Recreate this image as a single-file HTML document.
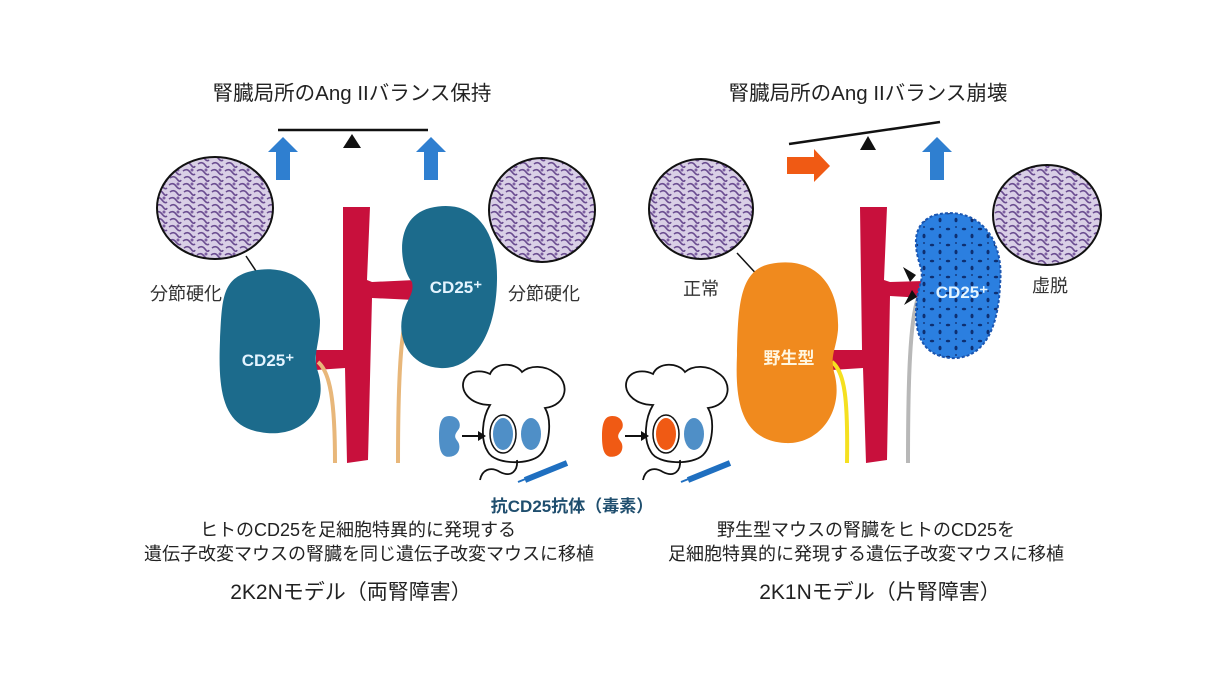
<!DOCTYPE html>
<html><head><meta charset="utf-8"><style>
html,body{margin:0;padding:0;background:#fff}
svg{display:block}
text{font-family:"Liberation Sans","Noto Sans CJK JP",sans-serif}
</style></head><body>
<svg width="1220" height="683" viewBox="0 0 1220 683">
<defs>
<pattern id="histo" width="14" height="14" patternUnits="userSpaceOnUse">
<rect width="14" height="14" fill="#d9cfe6"/>
<path d="M1 3 Q5 0 8 4 T13 6 M2 10 Q6 7 9 11 T13 12" stroke="#6a4c90" stroke-width="1.6" fill="none"/>
<circle cx="10" cy="2" r="1.5" fill="#7c5ea0"/>
</pattern>
<pattern id="spots" width="16" height="16" patternUnits="userSpaceOnUse">
<rect width="16" height="16" fill="#2b7fe0"/>
<ellipse cx="4" cy="5" rx="2.2" ry="1.3" fill="#0e2f70"/>
<ellipse cx="12" cy="12" rx="1.5" ry="2.3" fill="#0e2f70"/>
<circle cx="12" cy="3" r="1" fill="#153c80"/>
</pattern>
<g id="mouse">
<path d="M490 405 C470 405 458 390 465 378 C470 370 482 370 490 374 C495 362 515 362 522 372 C530 365 545 365 555 373 C570 382 568 405 545 408 C552 420 550 445 540 455 C530 465 495 465 488 452 C480 440 482 418 490 405 Z" fill="#fff" stroke="#111" stroke-width="1.8"/>
<path d="M517 460 C518 470 512 478 500 472 C490 466 482 470 480 480" fill="none" stroke="#111" stroke-width="1.8"/>
</g>
<path id="bean" d="M12 0 C22 0 26 8 24 14 C22 18 19 20 19 24 C19 28 24 30 24 36 C24 44 18 48 11 48 C3 48 0 40 0 24 C0 8 3 0 12 0 Z"/>
</defs>

<!-- LEFT PANEL -->
<text x="352" y="100" font-size="20.5" text-anchor="middle" fill="#222">腎臓局所のAng IIバランス保持</text>
<line x1="278" y1="130" x2="428" y2="130" stroke="#111" stroke-width="2.5"/>
<polygon points="352,134 343,148 361,148" fill="#111"/>
<polygon points="283,137 268,152 276,152 276,180 290,180 290,152 298,152" fill="#2f7fd0"/>
<polygon points="431,137 416,152 424,152 424,180 438,180 438,152 446,152" fill="#2f7fd0"/>
<ellipse cx="215" cy="208" rx="58" ry="51" fill="url(#histo)" stroke="#111" stroke-width="2"/>
<ellipse cx="542" cy="210" rx="53" ry="52" fill="url(#histo)" stroke="#111" stroke-width="2"/>
<line x1="246" y1="256" x2="262" y2="280" stroke="#111" stroke-width="1.5"/>
<line x1="490" y1="246" x2="482" y2="252" stroke="#111" stroke-width="1.5"/>
<text x="150" y="300" font-size="18" fill="#333">分節硬化</text>
<text x="508" y="300" font-size="18" fill="#333">分節硬化</text>
<path d="M343 207 L370 207 L367 280 L372 282 L415 280 L415 300 L372 298 L368 460 L347 463 L345 368 L316 370 L316 350 L343 350 Z" fill="#c8103c"/>
<path d="M318 362 C330 372 335 400 335 463" fill="none" stroke="#e8b77a" stroke-width="4"/>
<path d="M415 295 C402 310 398 360 398 463" fill="none" stroke="#e8b77a" stroke-width="4"/>
<path d="M248 272 C285 262 318 280 320 320 C320 345 312 355 318 372 C330 410 300 440 260 432 C222 426 218 390 220 340 C222 300 222 280 248 272 Z" fill="#1c6b8c"/>
<path d="M430 208 C470 198 498 225 497 280 C496 340 470 370 440 368 C410 366 398 340 402 318 C405 300 415 295 412 282 C400 268 392 218 430 208 Z" fill="#1c6b8c"/>
<text x="268" y="366" font-size="17" font-weight="bold" fill="#e4f4ff" text-anchor="middle">CD25⁺</text>
<text x="456" y="293" font-size="17" font-weight="bold" fill="#e4f4ff" text-anchor="middle">CD25⁺</text>
<use href="#mouse"/>
<use href="#bean" transform="translate(439,416) scale(0.85,0.85)" fill="#4f8fc7"/>
<line x1="462" y1="436" x2="480" y2="436" stroke="#111" stroke-width="2"/><polygon points="486,436 478,431 478,441" fill="#111"/>
<ellipse cx="503" cy="434" rx="13" ry="19" fill="#fff" stroke="#111" stroke-width="1.5"/>
<ellipse cx="503" cy="434" rx="10" ry="16" fill="#4f8fc7"/>
<ellipse cx="531" cy="434" rx="10" ry="16" fill="#4f8fc7"/>
<line x1="525" y1="480" x2="567" y2="463" stroke="#1f6fc0" stroke-width="6"/>
<line x1="518" y1="482" x2="528" y2="478" stroke="#1f6fc0" stroke-width="2"/>
<text x="572" y="512" font-size="17" font-weight="bold" fill="#1f4e6e" text-anchor="middle">抗CD25抗体（毒素）</text>

<text x="358" y="536" font-size="18" fill="#222" text-anchor="middle">ヒトのCD25を足細胞特異的に発現する</text>
<text x="369" y="560" font-size="18" fill="#222" text-anchor="middle">遺伝子改変マウスの腎臓を同じ遺伝子改変マウスに移植</text>
<text x="351" y="599" font-size="21" fill="#222" text-anchor="middle">2K2Nモデル（両腎障害）</text>

<!-- RIGHT PANEL -->
<text x="868" y="100" font-size="20.5" text-anchor="middle" fill="#222">腎臓局所のAng IIバランス崩壊</text>
<line x1="789" y1="144" x2="940" y2="122" stroke="#111" stroke-width="2.5"/>
<polygon points="868,136 860,150 876,150" fill="#111"/>
<polygon points="787,157 814,157 814,149 830,166 814,182 814,174 787,174" fill="#f05a14"/>
<polygon points="937,137 922,152 930,152 930,180 944,180 944,152 952,152" fill="#2f7fd0"/>
<ellipse cx="701" cy="209" rx="52" ry="50" fill="url(#histo)" stroke="#111" stroke-width="2"/>
<ellipse cx="1047" cy="215" rx="54" ry="50" fill="url(#histo)" stroke="#111" stroke-width="2"/>
<line x1="737" y1="253" x2="762" y2="280" stroke="#111" stroke-width="1.5"/>
<text x="683" y="295" font-size="18" fill="#333">正常</text>
<text x="1032" y="292" font-size="18" fill="#333">虚脱</text>
<path d="M860 207 L887 207 L884 280 L890 282 L924 281 L924 298 L890 296 L887 460 L866 463 L863 368 L832 370 L832 350 L862 350 Z" fill="#c8103c"/>
<path d="M832 362 C845 372 848 400 847 463" fill="none" stroke="#f5e020" stroke-width="4"/>
<path d="M918 298 C910 320 908 380 908 463" fill="none" stroke="#b8b8b8" stroke-width="4"/>
<path d="M770 264 C815 255 840 285 838 330 C836 350 830 355 834 372 C845 410 820 445 785 443 C740 440 735 400 737 355 C738 305 740 270 770 264 Z" fill="#f08a1e"/>
<path d="M935 215 C975 205 1005 235 1000 285 C998 335 980 360 950 358 C920 355 913 330 917 300 C918 285 925 280 920 265 C912 240 915 222 935 215 Z" fill="url(#spots)" stroke="#1a55b0" stroke-width="2" stroke-dasharray="3 2"/>
<polygon points="903,267 916,275 910,282" fill="#111"/>
<polygon points="904,305 917,297 912,290" fill="#111"/>
<text x="789" y="364" font-size="17" font-weight="bold" fill="#fff6e0" text-anchor="middle">野生型</text>
<text x="962" y="298" font-size="17" font-weight="bold" fill="#e4f4ff" text-anchor="middle">CD25⁺</text>
<g transform="translate(163,0)"><use href="#mouse"/>
<use href="#bean" transform="translate(439,416) scale(0.85,0.85)" fill="#f05a14"/>
<line x1="462" y1="436" x2="480" y2="436" stroke="#111" stroke-width="2"/><polygon points="486,436 478,431 478,441" fill="#111"/>
<ellipse cx="503" cy="434" rx="13" ry="19" fill="#fff" stroke="#111" stroke-width="1.5"/>
<ellipse cx="503" cy="434" rx="10" ry="16" fill="#f05a14"/>
<ellipse cx="531" cy="434" rx="10" ry="16" fill="#4f8fc7"/>
<line x1="525" y1="480" x2="567" y2="463" stroke="#1f6fc0" stroke-width="6"/>
<line x1="518" y1="482" x2="528" y2="478" stroke="#1f6fc0" stroke-width="2"/>
</g>

<text x="866" y="536" font-size="18" fill="#222" text-anchor="middle">野生型マウスの腎臓をヒトのCD25を</text>
<text x="866" y="560" font-size="18" fill="#222" text-anchor="middle">足細胞特異的に発現する遺伝子改変マウスに移植</text>
<text x="880" y="599" font-size="21" fill="#222" text-anchor="middle">2K1Nモデル（片腎障害）</text>
</svg>
</body></html>
